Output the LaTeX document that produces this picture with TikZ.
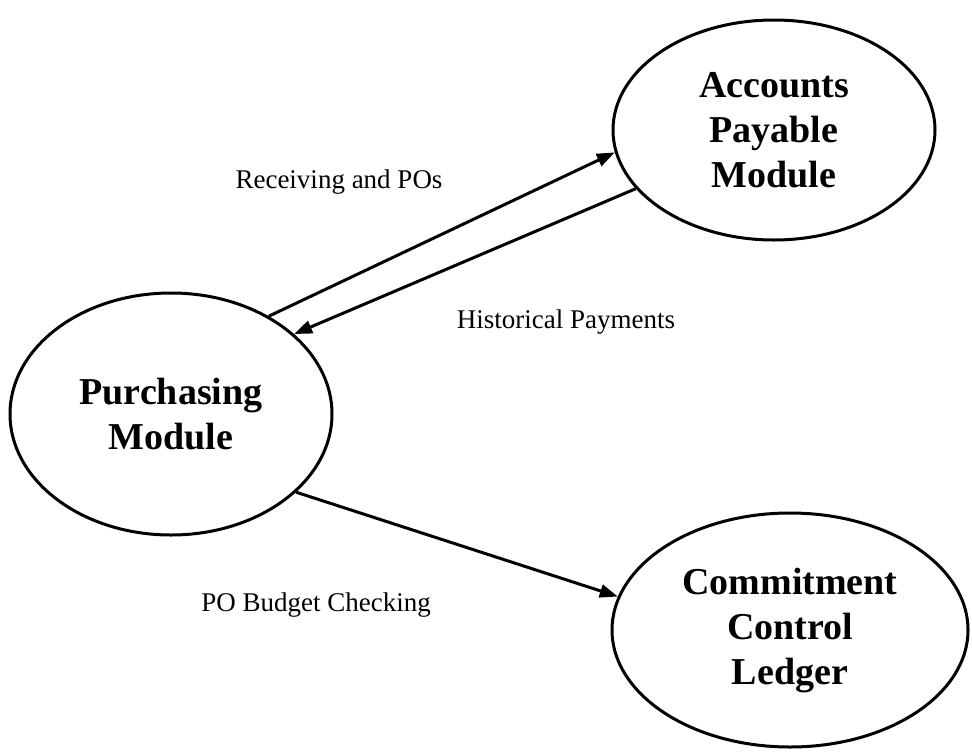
\documentclass[tikz,border=0pt]{standalone}
\usepackage{fontspec}
\setmainfont{Liberation Serif}
\usetikzlibrary{shapes.geometric,arrows.meta}
\begin{document}
\begin{tikzpicture}[x=1pt,y=-1pt,
    module/.style={ellipse,draw,line width=3pt,align=center,
      font=\fontsize{38}{45}\selectfont\bfseries},
    flow/.style={line width=3pt,-{Triangle[length=18pt,width=13pt]}},
    flowlabel/.style={font=\fontsize{27}{32}\selectfont}]
  \useasboundingbox (0,0) rectangle (972,753);
  % modules
  \node[module,minimum width=322pt,minimum height=242pt] (purch) at (171,414) {Purchasing\\Module};
  \node[module,minimum width=322pt,minimum height=220pt] (ap) at (774,130) {Accounts\\Payable\\Module};
  \node[module,minimum width=356pt,minimum height=234pt] (cc) at (790,630) {Commitment\\Control\\Ledger};
  % flows
  \draw[flow] (purch.45.6) -- (ap.188);
  \draw[flow] (ap.203.7) -- (purch.33.6);
  \draw[flow] (purch.-32) -- (cc.169.2);
  \node[flowlabel] (lrecv) at (339,182) {Receiving and POs};
  \node[flowlabel] (lhist) at (566,322) {Historical Payments};
  \node[flowlabel] (lbudget) at (316,605) {PO Budget Checking};
\end{tikzpicture}
\end{document}
